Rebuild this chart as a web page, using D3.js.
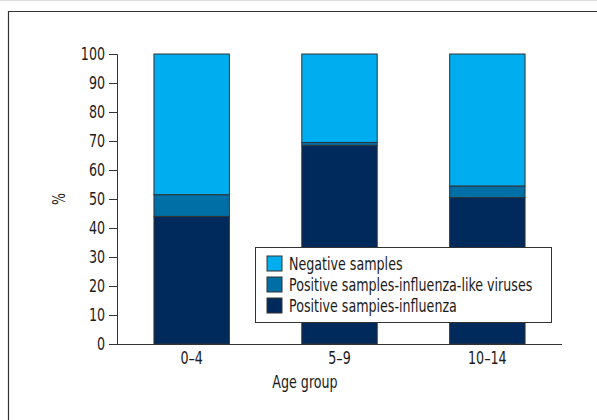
<!DOCTYPE html>
<html><head><meta charset="utf-8">
<script src="https://cdn.jsdelivr.net/npm/d3@7"></script>
<style>
body{margin:0;background:#fff;}
text{font-family:"DejaVu Sans Condensed","Liberation Sans Narrow",sans-serif;fill:#1a1a1a;}
</style></head><body>
<svg id="c" width="597" height="420"></svg>
<script>
const categories = ["0–4", "5–9", "10–14"];
const influenza = [44, 68.5, 50.5];
const influenzaLike = [7.5, 1, 4];
const negative = [48.5, 30.5, 45.5];
const seriesNames = ["Negative samples", "Positive samples-influenza-like viruses", "Positive sampies-influenza"];
const seriesColors = ["#00AEEF", "#006FA6", "#002A5C"];
const yTicks = [0,10,20,30,40,50,60,70,80,90,100];
const FS = 17.5;

const svg = d3.select("#c");
// frame
svg.append("line").attr("x1",0).attr("x2",597).attr("y1",0.5).attr("y2",0.5).attr("stroke","#ddd");
svg.append("path").attr("d","M8.5,420V11.5H597").attr("fill","none").attr("stroke","#333").attr("stroke-width",1.2);

const x = d3.scaleBand().domain(categories).range([117,562]).paddingInner(0.49).paddingOuter(0.25);
const y = d3.scaleLinear().domain([0,100]).range([344,54]);

const rows = categories.map((c,i)=>({cat:c, influenza:influenza[i], like:influenzaLike[i], negative:negative[i]}));
const stack = d3.stack().keys(["influenza","like","negative"])(rows);
const colorByKey = {influenza:seriesColors[2], like:seriesColors[1], negative:seriesColors[0]};

const g = svg.append("g");
stack.forEach(layer=>{
  g.selectAll(null).data(layer).enter().append("rect")
    .attr("x", d=>x(d.data.cat))
    .attr("width", x.bandwidth())
    .attr("y", d=>y(d[1]))
    .attr("height", d=>y(d[0])-y(d[1]))
    .attr("fill", colorByKey[layer.key])
    .attr("stroke","#333").attr("stroke-width",1);
});

// y axis
const ya = svg.append("g").attr("transform","translate(117,0)")
  .call(d3.axisLeft(y).tickValues(yTicks).tickSize(8).tickPadding(4));
ya.select(".domain").attr("stroke","#333");
ya.selectAll(".tick line").attr("stroke","#333");
ya.selectAll("text").attr("font-size",FS).attr("font-family",null).attr("fill","#1a1a1a");

// x axis
const xa = svg.append("g").attr("transform","translate(0,344)")
  .call(d3.axisBottom(x).tickSize(0).tickPadding(8));
xa.select(".domain").attr("stroke","#333").attr("d","M117,0.5H562");
xa.selectAll("text").attr("font-size",FS).attr("font-family",null).attr("fill","#1a1a1a");

svg.append("text").attr("transform","translate(65,199) rotate(-90)").attr("text-anchor","middle")
  .attr("font-size",FS).text("%");
svg.append("text").attr("x",305).attr("y",388).attr("text-anchor","middle").attr("font-size",FS).text("Age group");

// legend
const lg = svg.append("g");
lg.append("rect").attr("x",255.5).attr("y",247.5).attr("width",296).attr("height",75)
  .attr("fill","#fff").attr("stroke","#333").attr("stroke-width",1);
seriesNames.forEach((n,i)=>{
  const cy = 264 + i*21;
  lg.append("rect").attr("x",267).attr("y",cy-8).attr("width",15).attr("height",15)
    .attr("fill",seriesColors[i]).attr("stroke","#333").attr("stroke-width",1);
  lg.append("text").attr("x",289).attr("y",cy+6).attr("font-size",FS).text(n);
});

// condense all text horizontally to mimic the narrow typeface
svg.selectAll("text").each(function(){
  const w = this.getComputedTextLength();
  if (w > 0) d3.select(this).attr("textLength", w*0.88*16/FS).attr("lengthAdjust","spacingAndGlyphs");
});
</script></body></html>
